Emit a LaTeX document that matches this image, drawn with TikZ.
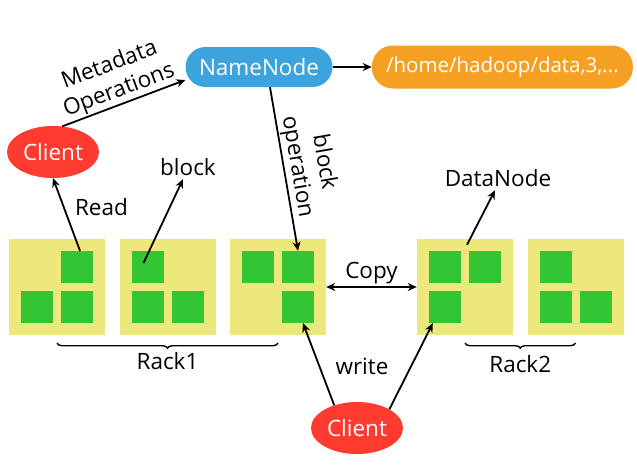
\documentclass[tikz,border=0pt]{standalone}
\usepackage{fontspec}
\setmainfont{Open Sans}
\usetikzlibrary{arrows.meta, positioning, shapes.geometric, decorations.pathreplacing, calc}
\definecolor{ClientRed}{HTML}{FF3B30}
\definecolor{NameBlue}{HTML}{3DA3DC}
\definecolor{PathOrange}{HTML}{F5A023}
\definecolor{RackYellow}{HTML}{EDE87B}
\definecolor{BlockGreen}{HTML}{33C533}

\begin{document}
\begin{tikzpicture}[
    x=1pt, y=-1pt, >={Stealth[length=9pt, width=8pt]},
    font=\fontsize{22.5}{27}\selectfont,
    client/.style = {ellipse, fill=ClientRed, text=white, minimum width=92pt, minimum height=52pt, inner sep=0pt},
    master/.style = {rectangle, rounded corners=20pt, fill=NameBlue, text=white, minimum width=147pt, minimum height=40pt},
    meta/.style = {rectangle, rounded corners=21pt, fill=PathOrange, text=white, minimum width=261pt, minimum height=43pt, inner xsep=4pt, font=\fontsize{20.5}{24}\selectfont},
    rackbox/.style = {rectangle, fill=RackYellow, minimum size=96pt, inner sep=0pt},
    blockcell/.style = {rectangle, fill=BlockGreen, minimum size=32pt, inner sep=0pt},
    arrow/.style = {draw, ->, line width=1.8pt},
    rackbrace/.style = {draw, line width=1.4pt, decorate, decoration={brace, mirror, amplitude=5pt}}
]
\useasboundingbox (0,0) rectangle (637,471);

% name node and its metadata
\node[client] (client) at (53,152) {Client};
\node[master] (namenode) at (259,67) {NameNode};
\node[meta, right=39pt of namenode] (meta) {/home/hadoop/data,3,...};

% racks of data nodes
\foreach \b/\x/\cells in {1/57/{20/-20,-20/20,20/20}, 2/167.5/{-20/-20,-20/20,20/20},
    3/278/{-20/-20,20/-20,20/20}, 4/465/{-20/-20,20/-20,-20/20}, 5/575.5/{-20/-20,-20/20,20/20}} {
  \node[rackbox] (dn\b) at (\x,287) {};
  \foreach \dx/\dy [count=\i] in \cells
    \node[blockcell] (dn\b-\i) at (\x+\dx,287+\dy) {};
}

\node (blocklbl) at (188,167) {block};
\node (dnlbl) at (498,178) {DataNode};
\node[client] (client2) at (357,428) {Client};
\node (writelbl) at (362,366) {write};

\draw[arrow] (client.70) -- node[sloped, above, align=center, inner sep=1pt] {Metadata\\Operations} ([yshift=-13pt]namenode.west);
\draw[arrow] (namenode) -- (meta);
\draw[arrow] ([xshift=11pt]namenode.south) -- node[sloped, above, align=center, inner sep=1pt] {block\\operation} (dn3-2.north);
\draw[arrow] ([xshift=3pt]dn1-1.north) -- node[pos=0.6, right=7pt] {Read} (client.south);
\draw[arrow] ([shift={(-4pt,4pt)}]dn2-1.center) -- ([xshift=-5pt]blocklbl.south);
\draw[arrow] ([shift={(2pt,-6pt)}]dn4.north) -- ([xshift=-3pt]dnlbl.south);
\draw[arrow, <->] (dn3.east) -- node[above, inner sep=2pt] {Copy} (dn4.west);
\draw[arrow] (client2.135) -- ([xshift=5pt]dn3-3.south);
\draw[arrow] (client2.30) -- ([xshift=4pt]dn4-3.south west);

% racks
\draw[rackbrace] ([yshift=-8pt]dn1.south) -- node[below=5pt] {Rack1} ([yshift=-8pt]dn3.south);
\draw[rackbrace] ([yshift=-8pt]dn4.south) -- node[below=8pt] {Rack2} ([yshift=-8pt]dn5.south);
\end{tikzpicture}
\end{document}
